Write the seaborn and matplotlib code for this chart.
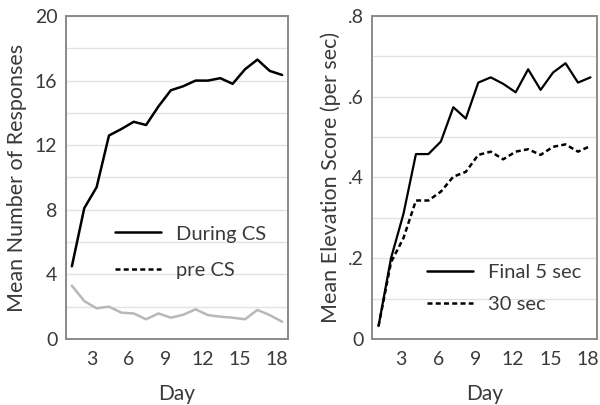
import numpy as np
import pandas as pd
import matplotlib
matplotlib.use("Agg")
import matplotlib.pyplot as plt
from matplotlib.lines import Line2D
import seaborn as sns

# ---------------------- data ----------------------
days = list(range(1, 19))
during_cs = [4.5, 8.1, 9.4, 12.6, 13.0, 13.45, 13.25, 14.4, 15.4, 15.65,
             16.0, 16.0, 16.15, 15.8, 16.7, 17.3, 16.6, 16.35]
pre_cs = [3.3, 2.35, 1.9, 2.0, 1.63, 1.58, 1.22, 1.58, 1.32, 1.5,
          1.84, 1.48, 1.38, 1.32, 1.22, 1.8, 1.48, 1.07]
final_5 = [0.032, 0.20, 0.31, 0.458, 0.458, 0.489, 0.574, 0.546, 0.635, 0.648,
           0.632, 0.611, 0.668, 0.617, 0.660, 0.683, 0.635, 0.648]
sec_30 = [0.032, 0.19, 0.25, 0.343, 0.343, 0.365, 0.402, 0.414, 0.456, 0.464,
          0.445, 0.464, 0.470, 0.456, 0.476, 0.482, 0.464, 0.478]
xtick_days = [3, 6, 9, 12, 15, 18]

left_yticks = [0, 4, 8, 12, 16, 20]
right_yticks = [0, 0.2, 0.4, 0.6, 0.8]
right_ylabels = ["0", ".2", ".4", ".6", ".8"]

# ---------------------- style ----------------------
sns.set_style("white")
plt.rcParams["font.family"] = ["Lato", "DejaVu Sans"]
TXT = "#3a3a3a"
SPINE = "#8a8a8a"
GRID = "#e2e2e2"

fig = plt.figure(figsize=(6, 4.05), dpi=100)
ax1 = fig.add_axes([0.1095, 0.163, 0.371, 0.7975])
ax2 = fig.add_axes([0.6205, 0.163, 0.374, 0.7975])

df1 = pd.DataFrame({"Day": days, "During CS": during_cs, "pre CS": pre_cs})
df2 = pd.DataFrame({"Day": days, "Final 5 sec": final_5, "30 sec": sec_30})

sns.lineplot(data=df1, x="Day", y="pre CS", ax=ax1, color="#b8b8b8", lw=1.8)
sns.lineplot(data=df1, x="Day", y="During CS", ax=ax1, color="black", lw=1.8)
sns.lineplot(data=df2, x="Day", y="30 sec", ax=ax2, color="black", lw=1.8)
ax2.lines[-1].set_dashes((2.0, 1.3))
sns.lineplot(data=df2, x="Day", y="Final 5 sec", ax=ax2, color="black", lw=1.6)

# ---------------------- axes ----------------------
def style_axis(ax, ymax, yminor, yticks, ylabels, ylabel, ylab_x, offset):
    ax.set_xlim(0.5, 18.5)
    ax.set_ylim(0, ymax)
    ax.set_xticks([d - offset for d in xtick_days])
    ax.set_xticklabels([str(d) for d in xtick_days])
    ax.set_yticks(yticks)
    ax.set_yticklabels(ylabels)
    ax.set_yticks(np.arange(0, ymax + yminor / 2, yminor), minor=True)
    ax.grid(True, which="both", axis="y", color=GRID, lw=1)
    ax.set_axisbelow(True)
    for s in ax.spines.values():
        s.set_visible(True)
        s.set_color(SPINE)
        s.set_linewidth(1.4)
    ax.tick_params(axis="both", which="both", length=0, labelsize=14,
                   labelcolor=TXT)
    ax.tick_params(axis="x", pad=9)
    ax.tick_params(axis="y", pad=6)
    ax.set_xlabel("Day", fontsize=15, color=TXT, labelpad=11)
    ax.set_ylabel(ylabel, fontsize=15.5, color=TXT)
    ax.yaxis.set_label_coords(ylab_x, 0.5)


style_axis(ax1, 20, 2, left_yticks, [str(t) for t in left_yticks],
           "Mean Number of Responses", -0.175, 0.4)
style_axis(ax2, 0.8, 0.1, right_yticks, right_ylabels,
           "Mean Elevation Score (per sec)", -0.14, 0.2)

# ---------------------- legends ----------------------
h1 = [Line2D([], [], color="black", lw=1.8),
      Line2D([], [], color="black", lw=1.8, dashes=(2.0, 1.3))]
ax1.legend(h1, ["During CS", "pre CS"], loc="center left",
           bbox_to_anchor=(0.221, 0.269), frameon=False, fontsize=14.5,
           handlelength=2.3, handletextpad=0.75, labelspacing=0.95,
           borderpad=0, borderaxespad=0, labelcolor=TXT)

h2 = [Line2D([], [], color="black", lw=1.8),
      Line2D([], [], color="black", lw=1.8, dashes=(2.0, 1.3))]
ax2.legend(h2, ["Final 5 sec", "30 sec"], loc="center left",
           bbox_to_anchor=(0.242, 0.157), frameon=False, fontsize=14.5,
           handlelength=2.3, handletextpad=0.75, labelspacing=0.75,
           borderpad=0, borderaxespad=0, labelcolor=TXT)

fig.savefig("out.png", dpi=100)
